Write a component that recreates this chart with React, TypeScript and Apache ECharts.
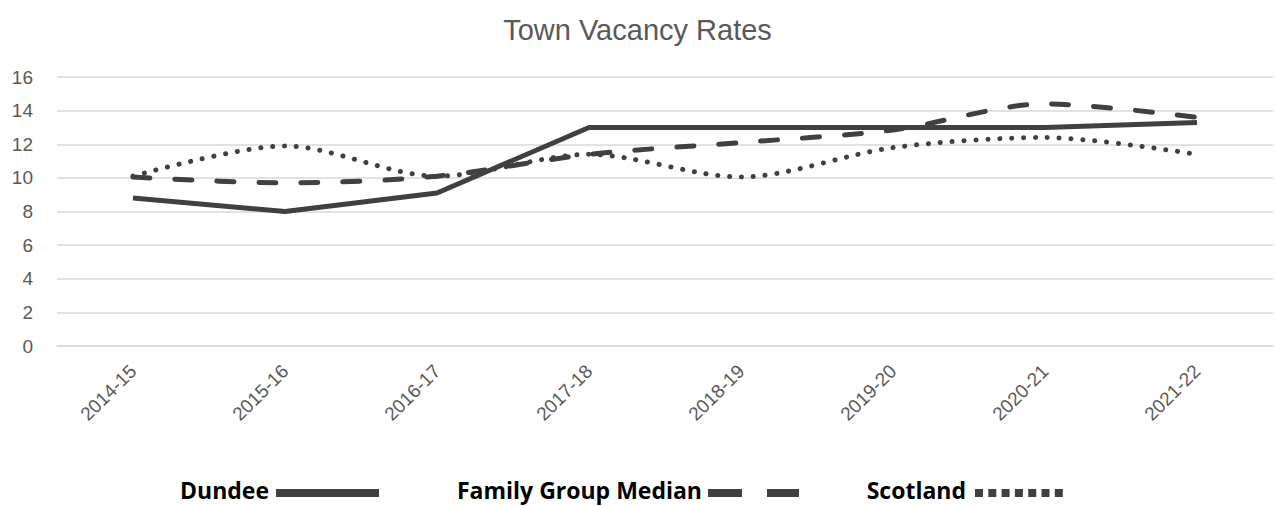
import React, { useEffect, useRef } from "react";
import * as echarts from "echarts";

const categories = ["2014-15", "2015-16", "2016-17", "2017-18", "2018-19", "2019-20", "2020-21", "2021-22"];
const dundee = [8.8, 8.0, 9.1, 13.0, 13.0, 13.0, 13.0, 13.3];
const familyGroupMedian = [10.05, 9.7, 10.1, 11.4, 12.1, 12.85, 14.4, 13.6];
const scotland = [10.1, 11.9, 10.1, 11.4, 10.05, 11.8, 12.4, 11.4];
const seriesNames = ["Dundee", "Family Group Median", "Scotland"];
const yTicks = { min: 0, max: 16, interval: 2 };

const LINE = "#404040";
const GRID = "#d9d9d9";
const LABEL = "#595959";

const legendFont = { fontFamily: "Open Sans", fontWeight: "bold", fontSize: 23, fill: "#000000" };

function legendItem(name: string, textRight: number, iconX: number, iconW: number, dash: number[] | null, iconH: number) {
  const y = 490;
  return [
    {
      type: "text",
      x: textRight,
      y,
      style: { ...legendFont, text: name, textAlign: "right", textVerticalAlign: "middle" },
    },
    {
      type: "line",
      shape: { x1: iconX, y1: y + 3, x2: iconX + iconW, y2: y + 3 },
      style: { stroke: LINE, lineWidth: iconH, lineDash: dash || undefined, lineCap: "butt" },
    },
  ];
}

export default function App() {
  const ref = useRef<HTMLDivElement>(null);
  useEffect(() => {
    if (!ref.current) return;
    const chart = echarts.init(ref.current, undefined, { renderer: "svg" });
    chart.setOption({
      animation: false,
      backgroundColor: "#ffffff",
      title: {
        text: "Town Vacancy Rates",
        left: "center",
        top: 10,
        textStyle: { fontFamily: "Liberation Sans", fontSize: 29, fontWeight: "normal", color: LABEL },
      },
      grid: { left: 57, right: 2, top: 77, bottom: 160 },
      xAxis: {
        type: "category",
        data: categories,
        boundaryGap: true,
        axisLine: { show: true, lineStyle: { color: GRID, width: 1.5 } },
        axisTick: { show: false },
        axisLabel: {
          rotate: 45,
          margin: 22,
          color: LABEL,
          fontFamily: "Liberation Sans",
          fontSize: 19,
        },
      },
      yAxis: {
        type: "value",
        min: yTicks.min,
        max: yTicks.max,
        interval: yTicks.interval,
        axisLine: { show: false },
        axisTick: { show: false },
        splitLine: { lineStyle: { color: GRID, width: 1.5 } },
        axisLabel: { color: LABEL, fontFamily: "Liberation Sans", fontSize: 19, margin: 24 },
      },
      graphic: [
        ...legendItem(seriesNames[0], 269, 276, 103, null, 8),
        ...legendItem(seriesNames[1], 702, 708, 91, [34, 25], 8),
        ...legendItem(seriesNames[2], 966, 975, 92, [8, 5.3], 8),
      ],
      series: [
        {
          name: seriesNames[0],
          type: "line",
          data: dundee,
          symbol: "none",
          lineStyle: { color: LINE, width: 5 },
          itemStyle: { color: LINE },
          z: 3,
        },
        {
          name: seriesNames[1],
          type: "line",
          data: familyGroupMedian,
          symbol: "none",
          smooth: 0.3,
          lineStyle: { color: LINE, width: 5, type: [17, 25], cap: "round" },
          itemStyle: { color: LINE },
          z: 2,
        },
        {
          name: seriesNames[2],
          type: "line",
          data: scotland,
          symbol: "none",
          smooth: 0.3,
          lineStyle: { color: LINE, width: 5, type: [0.1, 11.8], cap: "round" },
          itemStyle: { color: LINE },
          z: 1,
        },
      ],
    });
    return () => chart.dispose();
  }, []);
  return <div ref={ref} style={{ width: 1275, height: 506, position: "absolute", left: 0, top: 0 }} />;
}
